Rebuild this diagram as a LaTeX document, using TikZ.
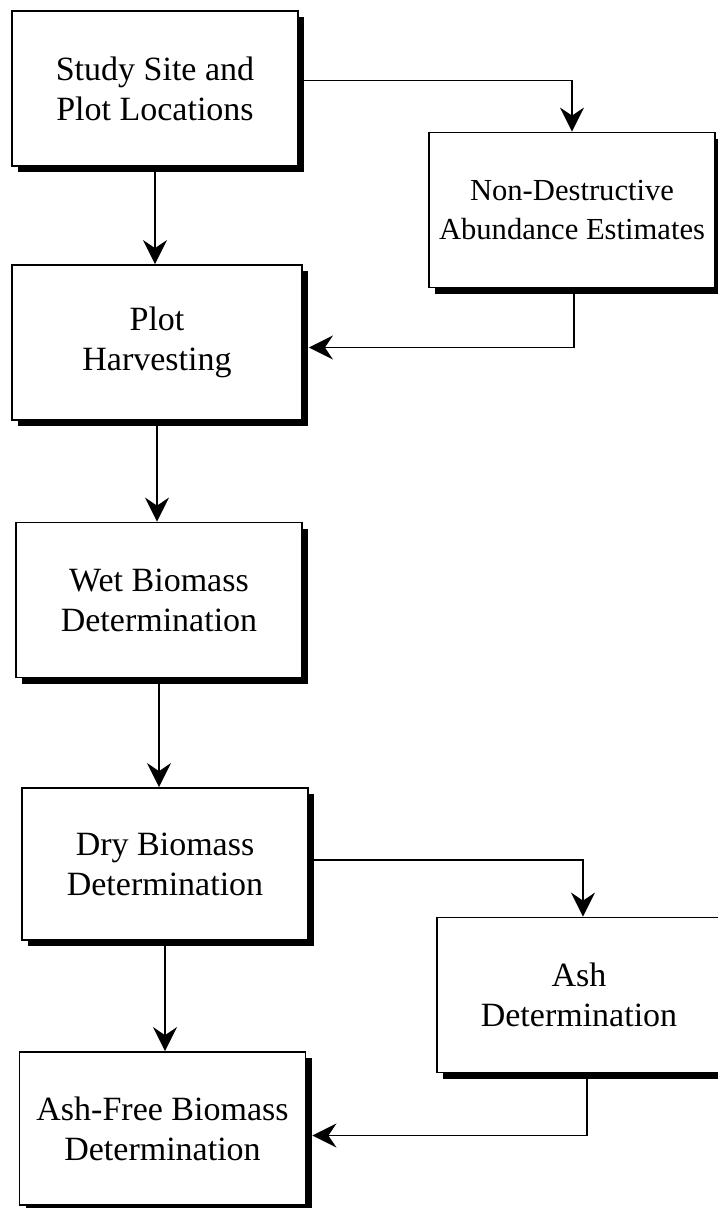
\documentclass[tikz,border=0pt]{standalone}
\usepackage{fontspec}
\setmainfont{Liberation Serif}
\usetikzlibrary{arrows.meta, positioning, shadows}
\tikzstyle{stage} = [rectangle, minimum width=143pt, minimum height=77.5pt, align=center, draw=black, line width=0.9pt, fill=white, drop shadow={shadow xshift=3.2pt, shadow yshift=-3.2pt, fill=black, opacity=1}, font=\fontsize{17}{20}\selectfont]
\tikzstyle{arrow} = [line width=0.9pt, -{Stealth[length=12pt, width=12pt, inset=4pt]}]

\begin{document}
\begin{tikzpicture}[x=0.5pt, y=-0.5pt]

    \useasboundingbox (0,0) rectangle (717,1208);

    % Blocchi principali
    \node (study) [stage] at (155,88.5) {Study Site and\\Plot Locations};
    \node (nde) [stage, font=\fontsize{15.3}{19.5}\selectfont] at (572,210) {Non-Destructive\\Abundance Estimates};
    \node (plot) [stage, minimum width=145pt] at (157,342.5) {Plot\\Harvesting};
    \node (wet) [stage] at (159,600) {Wet Biomass\\Determination};
    \node (dry) [stage, minimum height=76pt] at (165,864) {Dry Biomass\\Determination};
    \node (ash) [stage, minimum width=142pt] at (579,995) {Ash\\Determination};
    \node (free) [stage, minimum height=76.5pt] at (162.5,1128.5) {Ash-Free Biomass\\Determination};

    % Frecce principali
    \draw [arrow] (study.south) -- (study.south |- plot.north);
    \draw [arrow] (plot.south) -- (plot.south |- wet.north);
    \draw [arrow] (wet.south) -- (wet.south |- dry.north);
    \draw [arrow] (dry.south) -- (dry.south |- free.north);

    % Rami laterali
    \draw [arrow] ([yshift=4pt]study.east) -| (nde.north);
    \draw [arrow] ([xshift=1pt]nde.south) |- ([xshift=3pt,yshift=-2.5pt]plot.east);
    \draw [arrow] ([yshift=2pt]dry.east) -| ([xshift=2pt]ash.north);
    \draw [arrow] ([xshift=4pt]ash.south) |- ([xshift=3pt,yshift=-3.5pt]free.east);

\end{tikzpicture}
\end{document}
